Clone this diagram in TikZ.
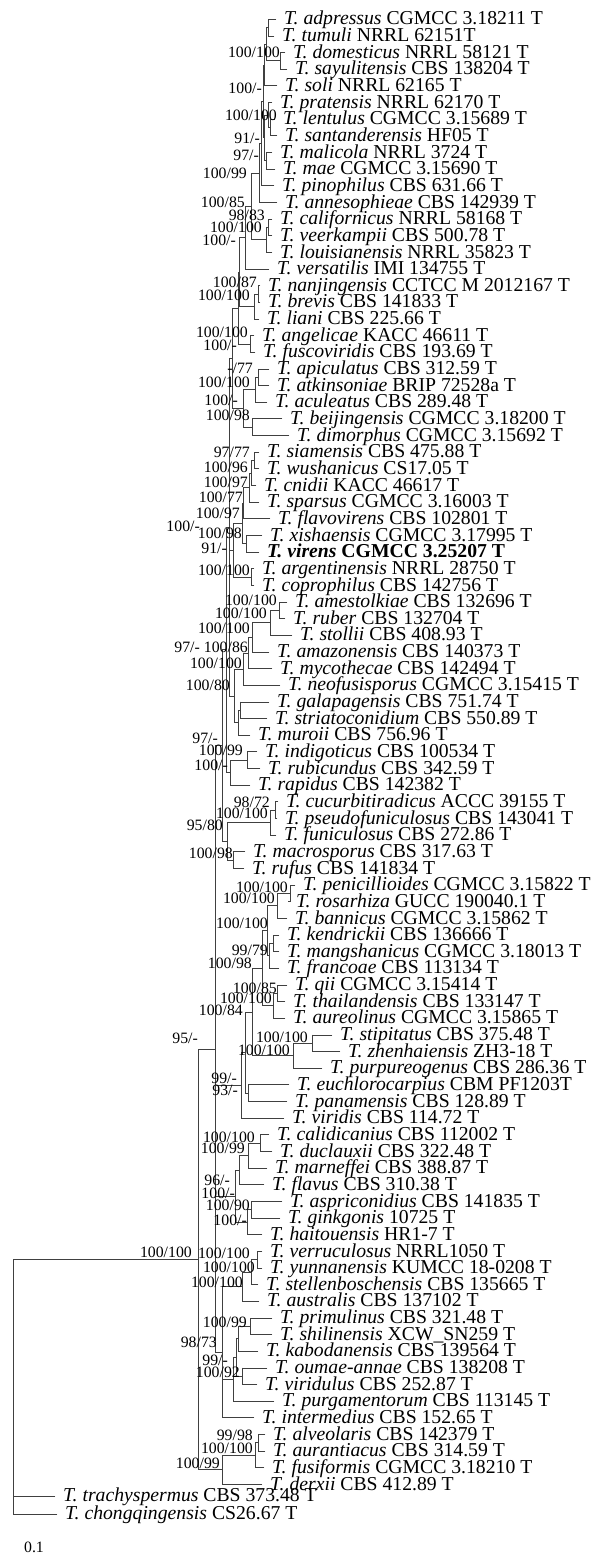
\documentclass[tikz,border=0pt]{standalone}
\usepackage{fontspec}
\setmainfont{Liberation Serif}
\usetikzlibrary{calc}
\tikzset{
  br/.style={draw=black!75, line width=0.9pt, line cap=rect},
  sp/.style={font=\fontsize{19.7}{20}\selectfont, inner sep=0pt, anchor=base west},
  bs/.style={font=\fontsize{15.8}{16}\selectfont, inner sep=0pt, anchor=east},
}
\newcommand\lf[3]{%
  \pgfmathsetmacro\yy{19.3+(#1-1)*16.65}%
  \coordinate (L#1) at (#2,\yy);
  \node[sp] (T#1) at (#2+8,\yy+5.6) {#3};
}
\newcommand\nd[3]{%
  \foreach \c [count=\i] in {#3} {\ifnum\i=1 \xdef\ndfirst{\c}\fi \xdef\ndlast{\c}}%
  \path let \p1=($(\ndfirst)!0.5!(\ndlast)$) in coordinate (#1) at (#2pt,\y1);
  \draw[br] (#1 |- \ndfirst) -- (#1 |- \ndlast);
  \foreach \c in {#3} {\draw[br] (#1 |- \c) -- (\c);}
}
\begin{document}
\begin{tikzpicture}[x=1pt,y=-1pt]
\useasboundingbox (0,0) rectangle (590,1556);
\lf{1}{276}{\textit{T. adpressus} CGMCC 3.18211 T}
\lf{2}{274}{\textit{T. tumuli} NRRL 62151T}
\lf{3}{285}{\textit{T. domesticus} NRRL 58121 T}
\lf{4}{287}{\textit{T. sayulitensis} CBS 138204 T}
\lf{5}{277}{\textit{T. soli} NRRL 62165 T}
\lf{6}{272}{\textit{T. pratensis} NRRL 62170 T}
\lf{7}{275}{\textit{T. lentulus} CGMCC 3.15689 T}
\lf{8}{277}{\textit{T. santanderensis} HF05 T}
\lf{9}{272}{\textit{T. malicola} NRRL 3724 T}
\lf{10}{275}{\textit{T. mae} CGMCC 3.15690 T}
\lf{11}{274}{\textit{T. pinophilus} CBS 631.66 T}
\lf{12}{277}{\textit{T. annesophieae} CBS 142939 T}
\lf{13}{272}{\textit{T. californicus} NRRL 58168 T}
\lf{14}{272}{\textit{T. veerkampii} CBS 500.78 T}
\lf{15}{272}{\textit{T. louisianensis} NRRL 35823 T}
\lf{16}{269}{\textit{T. versatilis} IMI 134755 T}
\lf{17}{260}{\textit{T. nanjingensis} CCTCC M 2012167 T}
\lf{18}{260}{\textit{T. brevis} CBS 141833 T}
\lf{19}{259}{\textit{T. liani} CBS 225.66 T}
\lf{20}{254}{\textit{T. angelicae} KACC 46611 T}
\lf{21}{255}{\textit{T. fuscoviridis} CBS 193.69 T}
\lf{22}{269}{\textit{T. apiculatus} CBS 312.59 T}
\lf{23}{269}{\textit{T. atkinsoniae} BRIP 72528a T}
\lf{24}{267}{\textit{T. aculeatus} CBS 289.48 T}
\lf{25}{282}{\textit{T. beijingensis} CGMCC 3.18200 T}
\lf{26}{289}{\textit{T. dimorphus} CGMCC 3.15692 T}
\lf{27}{259}{\textit{T. siamensis} CBS 475.88 T}
\lf{28}{259}{\textit{T. wushanicus} CS17.05 T}
\lf{29}{256}{\textit{T. cnidii} KACC 46617 T}
\lf{30}{259}{\textit{T. sparsus} CGMCC 3.16003 T}
\lf{31}{270}{\textit{T. flavovirens} CBS 102801 T}
\lf{32}{262}{\textit{T. xishaensis} CGMCC 3.17995 T}
\lf{33}{259}{\textbf{\textit{T. virens} CGMCC 3.25207 T}}
\lf{34}{254}{\textit{T. argentinensis} NRRL 28750 T}
\lf{35}{254}{\textit{T. coprophilus} CBS 142756 T}
\lf{36}{287}{\textit{T. amestolkiae} CBS 132696 T}
\lf{37}{285}{\textit{T. ruber} CBS 132704 T}
\lf{38}{292}{\textit{T. stollii} CBS 408.93 T}
\lf{39}{269}{\textit{T. amazonensis} CBS 140373 T}
\lf{40}{272}{\textit{T. mycothecae} CBS 142494 T}
\lf{41}{280}{\textit{T. neofusisporus} CGMCC 3.15415 T}
\lf{42}{269}{\textit{T. galapagensis} CBS 751.74 T}
\lf{43}{267}{\textit{T. striatoconidium} CBS 550.89 T}
\lf{44}{250}{\textit{T. muroii} CBS 756.96 T}
\lf{45}{257}{\textit{T. indigoticus} CBS 100534 T}
\lf{46}{260}{\textit{T. rubicundus} CBS 342.59 T}
\lf{47}{250}{\textit{T. rapidus} CBS 142382 T}
\lf{48}{278}{\textit{T. cucurbitiradicus} ACCC 39155 T}
\lf{49}{277}{\textit{T. pseudofuniculosus} CBS 143041 T}
\lf{50}{276}{\textit{T. funiculosus} CBS 272.86 T}
\lf{51}{245}{\textit{T. macrosporus} CBS 317.63 T}
\lf{52}{244}{\textit{T. rufus} CBS 141834 T}
\lf{53}{295}{\textit{T. penicillioides} CGMCC 3.15822 T}
\lf{54}{288}{\textit{T. rosarhiza} GUCC 190040.1 T}
\lf{55}{287}{\textit{T. bannicus} CGMCC 3.15862 T}
\lf{56}{279}{\textit{T. kendrickii} CBS 136666 T}
\lf{57}{279}{\textit{T. mangshanicus} CGMCC 3.18013 T}
\lf{58}{279}{\textit{T. francoae} CBS 113134 T}
\lf{59}{287}{\textit{T. qii} CGMCC 3.15414 T}
\lf{60}{285}{\textit{T. thailandensis} CBS 133147 T}
\lf{61}{285}{\textit{T. aureolinus} CGMCC 3.15865 T}
\lf{62}{332}{\textit{T. stipitatus} CBS 375.48 T}
\lf{63}{340}{\textit{T. zhenhaiensis} ZH3-18 T}
\lf{64}{322}{\textit{T. purpureogenus} CBS 286.36 T}
\lf{65}{289}{\textit{T. euchlorocarpius} CBM PF1203T}
\lf{66}{287}{\textit{T. panamensis} CBS 128.89 T}
\lf{67}{284}{\textit{T. viridis} CBS 114.72 T}
\lf{68}{269}{\textit{T. calidicanius} CBS 112002 T}
\lf{69}{272}{\textit{T. duclauxii} CBS 322.48 T}
\lf{70}{267}{\textit{T. marneffei} CBS 388.87 T}
\lf{71}{264}{\textit{T. flavus} CBS 310.38 T}
\lf{72}{282}{\textit{T. aspriconidius} CBS 141835 T}
\lf{73}{280}{\textit{T. ginkgonis} 10725 T}
\lf{74}{262}{\textit{T. haitouensis} HR1-7 T}
\lf{75}{262}{\textit{T. verruculosus} NRRL1050 T}
\lf{76}{262}{\textit{T. yunnanensis} KUMCC 18-0208 T}
\lf{77}{258}{\textit{T. stellenboschensis} CBS 135665 T}
\lf{78}{259}{\textit{T. australis} CBS 137102 T}
\lf{79}{272}{\textit{T. primulinus} CBS 321.48 T}
\lf{80}{272}{\textit{T. shilinensis} XCW\_SN259 T}
\lf{81}{258}{\textit{T. kabodanensis} CBS 139564 T}
\lf{82}{267}{\textit{T. oumae-annae} CBS 138208 T}
\lf{83}{257}{\textit{T. viridulus} CBS 252.87 T}
\lf{84}{274}{\textit{T. purgamentorum} CBS 113145 T}
\lf{85}{254}{\textit{T. intermedius} CBS 152.65 T}
\lf{86}{265}{\textit{T. alveolaris} CBS 142379 T}
\lf{87}{265}{\textit{T. aurantiacus} CBS 314.59 T}
\lf{88}{264}{\textit{T. fusiformis} CGMCC 3.18210 T}
\lf{89}{262}{\textit{T. derxii} CBS 412.89 T}
\coordinate (L90) at (55,1496);
\node[sp] (T90) at (63,1501.6) {\textit{T. trachyspermus} CBS 373.48 T};
\coordinate (L91) at (57,1514);
\node[sp] (T91) at (65,1519.6) {\textit{T. chongqingensis} CS26.67 T};
% tree
\nd{a1}{268}{L1,L2}
\nd{a2}{280}{L3,L4}
\nd{a3}{266}{a1,a2}
\nd{a4}{264}{a3,L5}
\nd{b1}{270}{L7,L8}
\nd{b2}{268}{L6,b1}
\nd{b3}{266}{L9,L10}
\nd{b4}{264.5}{b2,b3}
\nd{b5}{263}{a4,b4}
\nd{b6}{261}{b5,L11}
\nd{b7}{259}{b6,L12}
\nd{c1}{268}{L13,L14}
\nd{c2}{266}{c1,L15}
\nd{b8}{251}{b7,c2}
\nd{b9}{245}{b8,L16}
\nd{d1}{258}{L17,L18}
\nd{d2}{254}{d1,L19}
\nd{d3}{250}{L20,L21}
\nd{e1}{258}{L22,L23}
\nd{e2}{255}{e1,L24}
\nd{e3}{252}{L25,L26}
\nd{e4}{243}{e2,e3}
\nd{f1}{239.5}{b9,d2}
\nd{f2}{238}{f1,d3}
\nd{f3}{232}{f2,e4}
\nd{g1}{254}{L27,L28}
\nd{g2}{251}{g1,L29}
\nd{g3}{249}{g2,L30}
\nd{g4}{243}{g3,L31}
\nd{g5}{246}{L32,L33}
\nd{g6}{242}{g4,g5}
\nd{g7}{251}{L34,L35}
\nd{g8}{233}{g6,g7}
\nd{h1}{279}{L36,L37}
\nd{h2}{270}{h1,L38}
\nd{h3}{252}{h2,L39}
\nd{h4}{248}{h3,L40}
\nd{h5}{243}{h4,L41}
\nd{i1}{240}{L42,L43}
\nd{i2}{238.5}{i1,L44}
\nd{h6}{234}{h5,i2}
\nd{N100}{229.5}{f3,g8,h6}
\nd{j1}{247}{L45,L46}
\nd{j2}{230}{j1,L47}
\nd{N97}{226.5}{N100,j2}
\nd{m1}{275}{L48,L49}
\nd{m2}{270}{m1,L50}
\nd{m3}{233}{L51,L52}
\nd{m4}{227}{m2,m3}
\nd{V}{222}{N97,m4}
\nd{n1}{290}{L53,L54}
\nd{n2}{277}{n1,L55}
\nd{n3}{273}{L56,L57}
\nd{n4}{269}{n3,L58}
\nd{n5}{267.5}{n2,n4}
\nd{n6}{277}{L59,L60}
\nd{n7}{273}{n6,L61}
\nd{n8}{262}{n5,n7}
\nd{o1}{312}{L62,L63}
\nd{o2}{293}{o1,L64}
\nd{K}{252}{n8,o2}
\nd{o3}{248}{L65,L66}
\nd{M1}{245}{K,o3}
\nd{M2}{241}{M1,L67}
\nd{p1}{260}{L68,L69}
\nd{p2}{248}{p1,L70}
\nd{p3}{239}{p2,L71}
\nd{q1}{251}{L72,L73}
\nd{q2}{247}{q1,L74}
\nd{p4}{235}{p3,q2}
\nd{r1}{257}{L75,L76}
\nd{r2}{251}{r1,L77}
\nd{r3}{242}{r2,L78}
\nd{s1}{250}{L79,L80}
\nd{s2}{238}{s1,L81}
\nd{s3}{242}{L82,L83}
\nd{s4}{236}{s2,s3}
\nd{s5}{233}{s4,L84}
\nd{W}{222}{r3,s5,L85}
\nd{U}{215}{V,M2,p4,W}
\nd{t1}{258}{L86,L87}
\nd{t2}{255}{t1,L88}
\nd{t3}{222}{t2,L89}
\nd{I}{198}{U,t3}
\nd{R}{13}{I,L90,L91}
% support values
\foreach \x/\y/\a/\b [count=\k] in {
 280/52/100/100, 262/88/100/-, 277/115/100/100, 260/138/91/-, 259/155/97/-,
 247/173/100/99, 245/202/100/85, 265/215/98/83, 262/227/100/100, 236/240/100/-,
 257/282/100/87, 250/295/100/100, 248/332/100/100, 237/345/100/-, 253/368/-/77,
 250/382/100/100, 238/400/100/-, 250/415/100/98, 250/452/97/77, 248/467/100/96,
 248/482/100/97, 243/497/100/77, 240/513/100/97, 200/526/100/-, 242/533/100/98,
 227/548/91/-, 250/570/100/100, 277/600/100/100, 267/613/100/100, 250/628/100/100,
 200/647/97/-, 248/647/100/86, 242/663/100/100, 230/685/100/80, 218/738/97/-,
 243/750/100/99, 228/765/100/-, 270/802/98/72, 268/813/100/100, 223/825/95/80,
 233/853/100/98, 288/887/100/100, 275/898/100/100, 268/923/100/100, 268/950/99/79,
 252/963/100/98, 277/988/100/85, 272/998/100/100, 243/1010/100/84, 198/1038/95/-,
 308/1037/100/100, 290/1050/100/100, 237/1078/99/-, 238/1090/93/-, 255/1137/100/100,
 245/1148/100/99, 230/1180/96/-, 235/1193/100/-, 250/1205/100/90, 247/1220/100/-,
 192/1252/100/100, 250/1253/100/100, 255/1267/100/100, 243/1282/100/100, 247/1322/100/99,
 217/1342/98/73, 228/1360/99/-, 240/1372/100/92, 253/1435/99/98, 253/1448/100/100,
 220/1463/100/99}
 {\node[bs] (B\k) at (\x,\y) {\a/\b};}
\node[bs, anchor=center] (scale) at (34,1547) {0.1};
\end{tikzpicture}
\end{document}
